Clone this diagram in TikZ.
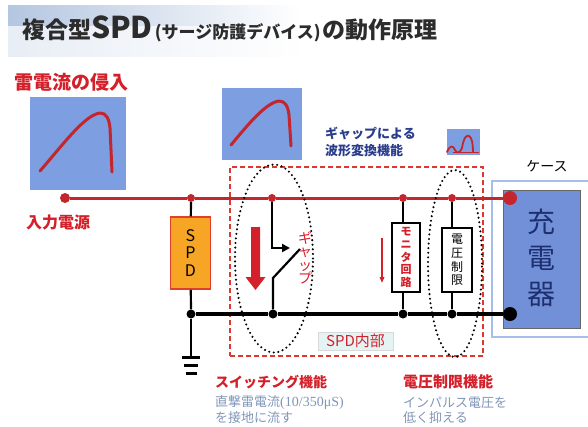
\documentclass[tikz,border=0pt]{standalone}
\usepackage{fontspec}
\setmainfont{Noto Sans CJK JP}
\newfontfamily\latinserif{Liberation Serif}
\usetikzlibrary{arrows.meta,shapes.geometric}

\definecolor{wirered}{HTML}{C4262E}
\definecolor{labelred}{HTML}{D4202A}
\definecolor{waveblue}{HTML}{7D9EE0}
\definecolor{chargerblue}{HTML}{7290D8}
\definecolor{caseblue}{HTML}{A6BEE8}
\definecolor{navytext}{HTML}{2A3D8C}
\definecolor{chargertext}{HTML}{1E2F70}
\definecolor{notegray}{HTML}{8095B8}
\definecolor{spdorange}{HTML}{F6A524}
\definecolor{spdedge}{HTML}{E0402A}
\definecolor{titleblue}{HTML}{B4C6E0}
\definecolor{titlegray}{HTML}{2C2C2C}
\definecolor{tagfill}{HTML}{E4F4F4}
\definecolor{zonered}{HTML}{D83A30}

\newcommand{\fsz}[1]{\fontsize{#1}{#1}\selectfont}
\newcommand{\vlines}[2]{\fontsize{#1}{#2}\selectfont}

\begin{document}
\begin{tikzpicture}[x=1pt, y=-1pt,
  wire/.style={wirered, line width=3pt},
  bus/.style={black, line width=3.2pt},
  branch/.style={black, line width=2.2pt},
  jdot/.style={circle, fill=#1, inner sep=0pt, minimum size=8pt},
  bigdot/.style={circle, fill=#1, inner sep=0pt, minimum size=14pt},
  wavebox/.style={fill=waveblue, inner sep=0pt},
  wave/.style={wirered, line width=3pt, line cap=round, line join=round},
  zone/.style={ellipse, draw=black, line width=2.3pt, dash pattern=on 0pt off 4.6pt, line cap=round, inner sep=0pt},
  partbox/.style={draw=black, line width=2pt, fill=white, inner sep=0pt},
  heading/.style={text=labelred, font=\bfseries},
  note/.style={text=notegray, anchor=west, inner sep=0pt, font=\fsz{13}}
]
\useasboundingbox (0,0) rectangle (588,426);

% title band
\shade[left color=titleblue, right color=white] (8,5) rectangle (300,56);
\shade[top color=white!0, bottom color=white, opacity=0.7] (8,26) rectangle (300,56);
\node[anchor=base west, inner sep=0pt, text=titlegray, font=\bfseries] (title) at (22,38)
  {\fsz{23}複合型{\fsz{30}SPD}\hspace{2pt}{\fsz{17}(サージ防護デバイス)}\hspace{2pt}\fsz{23}の動作原理};

% incoming lightning current
\node[heading, font=\bfseries\fsz{19}] (surge) at (71,82) {雷電流の侵入};
\node[wavebox, minimum width=96pt, minimum height=93pt] (wave1) at (78,143.5) {};
\draw[wave] (40,171) .. controls (65,142) and (85,115) .. (100,113)
  .. controls (106,113) and (109,118) .. (110,128) -- (112,172);

% waveform after the gap
\node[wavebox, minimum width=80pt, minimum height=72pt] (wave2) at (262,124) {};
\draw[wave] (231,145) .. controls (250,122) and (266,103) .. (279,101)
  .. controls (285,101) and (288,106) .. (289,115) -- (291,146);
\node[anchor=north west, inner sep=0pt, text=navytext, font=\bfseries\vlines{13}{17}, align=left] (gapnote) at (325,127) {ギャップによる\\波形変換機能};

% limited waveform icon
\node[wavebox, minimum width=33pt, minimum height=26pt] (wave3) at (463.5,142) {};
\draw[wirered, line width=1pt] (453,152) -- (479,152);
\draw[wirered, line width=1.8pt, line cap=round, line join=round]
  (447,152) .. controls (450,145) and (453,145) .. (455,150)
  .. controls (457,154) and (460,153) .. (462,148)
  .. controls (464,136) and (467,135) .. (469,136)
  .. controls (472,137) and (473,145) .. (473,152);

% SPD internals frame
\node[draw=zonered, line width=1.4pt, dash pattern=on 5pt off 3pt, minimum width=253pt, minimum height=189pt, inner sep=0pt] (inner) at (356.5,261.5) {};
\node[fill=tagfill, draw=black!15, inner sep=0pt, minimum width=75pt, minimum height=18pt, text=labelred, font=\fsz{15}] (innertag) at (355.5,341) {SPD内部};

% case and charger
\draw[caseblue, line width=2pt] (600,181) -- (492,181) -- (492,337) -- (600,337);
\node[fill=chargerblue, draw=black!60, line width=0.8pt, minimum width=77pt, minimum height=138pt, inner sep=0pt] (charger) at (541.5,259) {};
\node[text=chargertext, font=\vlines{28}{36}, align=center] (chargerlabel) at (541.5,258) {充\\電\\器};
\node[font=\fsz{14}] (case) at (547,166) {ケース};

% junctions
\node[jdot=wirered, minimum size=10pt] (in) at (65,198) {};
\node[jdot=wirered] (j1) at (191,198) {};
\node[jdot=wirered] (j2) at (272,198) {};
\node[jdot=wirered] (j3) at (403,198) {};
\node[jdot=wirered] (j4) at (452,198) {};
\node[bigdot=wirered] (cin) at (510,198) {};
\node[jdot=black, minimum size=9pt] (b1) at (191,314) {};
\node[jdot=black, minimum size=9pt] (b2) at (273,314) {};
\node[jdot=black, minimum size=9pt] (b3) at (403,314) {};
\node[jdot=black, minimum size=9pt] (b4) at (452,314) {};
\node[bigdot=black] (cout) at (510,314) {};
\node[heading, font=\bfseries\fsz{16}] (source) at (58,222) {入力電源};

% components
\node[fill=spdorange, draw=spdedge, line width=1.5pt, minimum width=40pt, minimum height=72pt, inner sep=0pt, font=\vlines{16}{17.5}, align=center] (spd) at (190.5,253) {S\\P\\D};
\node[partbox, minimum width=28pt, minimum height=69pt, text=labelred, font=\bfseries\vlines{11}{12.6}, align=center] (mon) at (406,257.5) {モ\\ニ\\タ\\回\\路};
\node[partbox, minimum width=30pt, minimum height=64pt, font=\vlines{12}{13.6}, align=center] (lim) at (457,260) {電\\圧\\制\\限};

% wiring
\draw[wire] (in) -- (j1) -- (j2) -- (j3) -- (j4) -- (cin);
\draw[bus] (b1) -- (b2) -- (b3) -- (b4) -- (cout);
\draw[branch] (j1) -- (spd);
\draw[branch] (spd) -- (b1);
\coordinate (gnd) at (191,357);
\draw[branch] (b1) -- (gnd);
\draw[black, line width=3pt] (182,357) -- (200,357) (184,365) -- (198,365) (185.5,373) -- (196.5,373);
\draw[branch] (j3) -- (j3 |- mon.north);
\draw[branch] (j3 |- mon.south) -- (b3);
\draw[branch] (j4) -- (j4 |- lim.north);
\draw[branch] (j4 |- lim.south) -- (b4);

% switching gap
\coordinate (gaptip) at (290,248);
\coordinate (bladeL) at (273,278);
\coordinate (bladeR) at (300,249);
\draw[branch, -{Triangle[length=8pt, width=8pt]}] (j2) |- (gaptip);
\draw[branch] (bladeR) -- (bladeL) -- (b2);
\node[text=labelred, font=\vlines{14}{13.5}, align=center] (gaplabel) at (305,258) {ギ\\ャ\\ッ\\プ};
\fill[labelred] (251,227) -- (260,227) -- (260,277) -- (265.5,277) -- (255.5,290) -- (245.5,277) -- (251,277) -- cycle;
\draw[labelred, line width=1.6pt, -{Triangle[length=6pt, width=4.5pt]}] (382,238) -- (382,283);

% function zones
\node[zone, minimum width=78pt, minimum height=188pt] (swzone) at (274,258.5) {};
\node[zone, minimum width=54pt, minimum height=187pt] (limzone) at (455,263.5) {};

% captions
\node[heading, font=\bfseries\fsz{14}, anchor=west, inner sep=0pt] (swcap) at (215,382) {スイッチング機能};
\node[heading, font=\bfseries\fsz{15}, anchor=west, inner sep=0pt] (limcap) at (403,382) {電圧制限機能};
\node[note] (swnote1) at (215,403) {直撃雷電流{\latinserif\fsz{14}(10/350μS)}};
\node[note] (swnote2) at (215,417.5) {を接地に流す};
\node[note] (limnote1) at (403,403) {インパルス電圧を};
\node[note] (limnote2) at (403,417.5) {低く抑える};
\end{tikzpicture}
\end{document}
